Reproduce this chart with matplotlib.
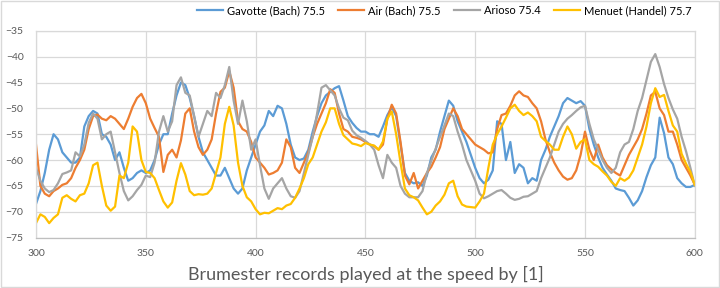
"""
Brumester records - spectral level comparison (Excel-style line chart)
"""
import numpy as np
import matplotlib
matplotlib.use('Agg')
import matplotlib.pyplot as plt
from matplotlib import rcParams
from matplotlib.patches import Rectangle

rcParams['font.family'] = ['Lato', 'DejaVu Sans']
rcParams['figure.dpi'] = 100
rcParams['savefig.dpi'] = 100

# x positions (records played at the speed by [1])
x = np.arange(300, 601, 2)

gavotte = [
    -68.5, -66, -62.5, -58, -55, -56, -58.5, -59.5, -60.5, -60.5, -59.5, -53.5, -51.5,
    -50.5, -51, -55, -55.5, -57, -60, -58.5, -61.5, -64, -63.5, -62.5, -62,
    -62.5, -62, -60, -57, -55, -55, -51, -47.5, -45, -45.5, -48, -51.5, -55.5,
    -58.5, -60, -61.5, -63, -63, -61.5, -63.5, -65.5, -66.5, -65.5, -62, -59.5,
    -57, -54.5, -53.3, -50.5, -51.5, -49.5, -50, -53, -57, -59.5, -60, -59.7, -58,
    -54.5, -51.5, -49, -47.5, -46.8, -46.1, -45.7, -48.5, -51.5, -52.8, -53.8, -54.5,
    -54.5, -55, -55, -55.5, -53.5, -51.3, -49.8, -51.5, -57, -62.5, -64, -64.5, -64.3,
    -65, -63, -59.5, -58, -54.5, -51.5, -48.5, -49.5, -52.5, -54.5, -56.5, -59,
    -61.5, -63.5, -64.5, -63.8, -62, -52.5, -53, -60, -56.5, -62.5, -60.8, -61.5, -64.5,
    -63.5, -64, -60, -58, -55.5, -53.5, -51.5, -49, -48, -48.5, -49, -48.6,
    -49.5, -54, -57, -59.5, -61.5, -62.8, -64, -65.5, -65.8, -66, -67.3, -68.8, -67.8,
    -66, -63.3, -61, -59.5, -51.8, -54.8, -59.5, -60.8, -63.5, -64.5, -65.2, -65.2,
    -64.8,
]

air = [
    -57, -65, -66.5, -67, -66, -65.5, -64.8, -64.5, -63.5, -61.5, -60, -58, -54,
    -51.5, -51.2, -52, -52.3, -51.5, -52, -53, -54, -52, -49.7, -48, -47.2,
    -49, -52, -53.8, -55.5, -62.3, -59, -58, -59.5, -56.2, -51, -50, -54.5, -57.5,
    -59, -58, -56, -51, -46.8, -46, -42.8, -46, -52.5, -54, -54.5, -56.5,
    -59.5, -60.5, -61.5, -62.8, -62.5, -62, -60.5, -56, -57.5, -61.5, -62.5, -60.5, -58.5,
    -55.5, -53, -51, -49, -46.3, -47, -51, -54, -54.5, -55.5, -55.7, -56,
    -56.5, -57, -57.3, -58, -57, -52, -49.3, -51, -56.5, -63, -64.7, -62.5, -65.5,
    -64, -62.5, -61.3, -59.5, -57.5, -54, -52, -50, -51.5, -54, -55, -56,
    -57, -57.5, -58, -58.7, -58.5, -54, -51.3, -51, -49.5, -47.5, -46.7, -47.5, -47.8,
    -49, -50, -52.5, -56, -58.5, -60.5, -62, -63.2, -63.8, -63.5, -62, -59,
    -54.5, -58, -60, -57, -59.5, -61, -61.8, -62.5, -63, -61, -59, -57.5, -56,
    -54, -51, -47.5, -46.8, -50, -51.3, -54.5, -54.5, -57, -60, -61.5, -63,
    -64.8,
]

arioso = [
    -61.5, -64, -65.5, -66.2, -65.8, -64.5, -62.7, -62.4, -62, -58.5, -59.3, -57, -52.8,
    -51, -52, -56, -55, -54.5, -58.5, -62.5, -66, -67.8, -67, -65.8, -64.8,
    -63, -63.3, -60.5, -54.5, -51.5, -54.5, -52.5, -45.5, -44, -47, -47.5, -51.5, -55.5,
    -53, -50.5, -51.5, -47, -48, -45.5, -42, -48.5, -53, -48.5, -52.5, -58,
    -56, -61, -65.5, -67.5, -65.5, -64.5, -63.5, -65.5, -67, -67.3, -66, -62.5, -59,
    -55.5, -51, -46, -45.5, -46.5, -47.5, -50, -51.8, -52.3, -54.3, -55.2, -55.7,
    -56.3, -57, -58, -61, -63.5, -59, -60.5, -61.5, -65, -66.5, -67.2, -67.2, -67.2,
    -66, -62.5, -60.2, -57.8, -55.5, -53.3, -51, -51.5, -54.5, -57, -60, -62,
    -64, -66.5, -67.4, -67, -66.5, -66, -65.8, -66.5, -67.3, -67.7, -67.5, -67.1, -67,
    -66.5, -66, -63.5, -61.5, -59.5, -57, -54.5, -53, -52, -51.3, -50.5, -49.8,
    -49.5, -53, -56, -58, -60, -61.5, -62.5, -61.5, -58.5, -57, -56.5, -54, -50.5,
    -48, -44.5, -41, -39.5, -42, -45.3, -48, -50.2, -52, -55.5, -58.3, -61.5,
    -65,
]

menuet = [
    -72.2, -70.5, -71, -72.2, -71.2, -70.5, -67.3, -66.8, -67.5, -68, -66.8, -66.5, -64.5,
    -61, -60.5, -65, -68.8, -69.8, -69, -63, -63.5, -60.5, -53.5, -54.5, -60,
    -62.3, -62.5, -63.5, -65.8, -68, -69.2, -68.2, -64, -60.6, -62.8, -66, -66.8, -66.6,
    -66.7, -66.5, -65.5, -62.5, -59.5, -53, -49.7, -53.3, -60.5, -65, -67.2, -68,
    -69.5, -70.5, -70.2, -70.3, -69.8, -69.3, -69.5, -68.8, -68.5, -67.3, -65.5, -63.5, -60.8,
    -59.5, -57, -54.5, -52.7, -50, -50, -53, -55.2, -56, -56.8, -57, -57.3,
    -56.7, -57, -57.2, -58, -56.4, -52, -50.6, -55, -60.5, -65.5, -66.8, -67.2, -67.8,
    -69.2, -70.5, -70, -68.8, -68, -66.7, -64.5, -64, -67, -68.6, -69, -69.1,
    -69.2, -68, -66.5, -61.5, -57, -55, -53.5, -51.8, -50, -49.3, -50.5, -51.3, -50.8,
    -51.5, -52.5, -55.5, -56.3, -57, -58, -58, -55.5, -53.5, -55, -57.8, -56.5,
    -56, -60, -60.8, -61.3, -62.2, -63, -64.2, -65, -63.5, -64, -63.4, -62, -59.5,
    -57, -53.5, -49, -46.1, -47.8, -47.4, -50.5, -53.3, -54.5, -58.8, -60.7, -62.3,
    -64.8,
]

series_names = ['Gavotte (Bach) 75.5', 'Air (Bach) 75.5', 'Arioso 75.4', 'Menuet (Handel) 75.7']
series_colors = ['#5B9BD5', '#ED7D31', '#A5A5A5', '#FFC000']
x_ticks = [300, 350, 400, 450, 500, 550, 600]
y_ticks = [-75, -70, -65, -60, -55, -50, -45, -40, -35]

fig = plt.figure(figsize=(7.2, 2.88))
ax = fig.add_axes([0.05, 0.175, 0.915, 0.718])

for vals, name, col in zip([gavotte, air, arioso, menuet], series_names, series_colors):
    ax.plot(x, vals, color=col, linewidth=1.6, label=name, solid_joinstyle='round')

ax.set_xlim(300, 600)
ax.set_ylim(-75, -35)
ax.set_xticks(x_ticks)
ax.set_yticks(y_ticks)
ax.grid(True, color='#D9D9D9', linewidth=0.9)
ax.set_axisbelow(True)
for sp in ax.spines.values():
    sp.set_color('#D9D9D9')
    sp.set_linewidth(0.9)
ax.spines['bottom'].set_color('#BFBFBF')
ax.tick_params(length=0, labelsize=7.5, labelcolor='#595959')
ax.tick_params(axis='x', pad=8)
ax.tick_params(axis='y', pad=9)
ax.set_xlabel('Brumester records played at the speed by [1]', fontsize=13,
              color='#595959', labelpad=6)

fig.legend(loc='center right', bbox_to_anchor=(0.975, 0.963), ncol=4, frameon=False,
           fontsize=8, handlelength=2.3, columnspacing=1.2, handletextpad=0.4)

# chart border
fig.patches.append(Rectangle((0.001, 0.002), 0.997, 0.995, transform=fig.transFigure,
                             fill=False, edgecolor='#D9D9D9', linewidth=1))

fig.savefig('out.png')
plt.close(fig)
